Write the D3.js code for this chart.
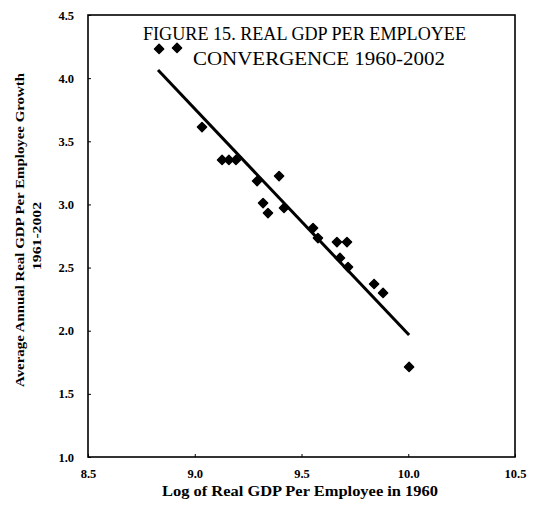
<!DOCTYPE html>
<html><head><meta charset="utf-8">
<script src="https://cdn.jsdelivr.net/npm/d3@7"></script>
<style>body{margin:0;background:#fff}svg{display:block}</style>
</head><body>
<svg id="c" width="534" height="507"></svg>
<script>
const gdp1960 = [8.833, 8.917, 9.034, 9.128, 9.160, 9.193, 9.292, 9.395, 9.320, 9.343, 9.418, 9.554, 9.577, 9.666, 9.713, 9.680, 9.718, 9.840, 9.882, 10.004];
const growth  = [4.231, 4.239, 3.613, 3.352, 3.352, 3.352, 3.185, 3.225, 3.011, 2.932, 2.972, 2.813, 2.734, 2.702, 2.702, 2.576, 2.504, 2.370, 2.299, 1.713];
const fitX = [8.828, 10.004];
const fitY = [4.064, 1.966];
const xTicks = [8.5, 9.0, 9.5, 10.0, 10.5];
const yTicks = [1.0, 1.5, 2.0, 2.5, 3.0, 3.5, 4.0, 4.5];
const titleLines = ["FIGURE 15. REAL GDP PER EMPLOYEE", "CONVERGENCE 1960-2002"];
const xTitle = "Log of Real GDP Per Employee in 1960";
const yTitleLines = ["Average Annual Real GDP Per Employee Growth", "1961-2002"];

const svg = d3.select("#c");
const L = 88, R = 515, T = 15, B = 457;
const x = d3.scaleLinear().domain([8.5, 10.5]).range([L, R]);
const y = d3.scaleLinear().domain([1.0, 4.5]).range([B, T]);
const serif = "'Liberation Serif','Times New Roman',serif";

// frame
svg.append("rect").attr("x", L).attr("y", T).attr("width", R - L).attr("height", B - T)
  .attr("fill", "none").attr("stroke", "#000").attr("stroke-width", 1.6);

// axes
const xAxis = d3.axisBottom(x).tickValues(xTicks).tickFormat(d3.format(".1f")).tickSizeInner(-3).tickSizeOuter(0).tickPadding(12);
const gx = svg.append("g").attr("transform", `translate(0,${B})`).call(xAxis);
gx.select(".domain").remove();
gx.selectAll("text").attr("font-family", serif).attr("font-weight", "bold").attr("font-size", 12.5).attr("fill", "#000");

const yAxis = d3.axisLeft(y).tickValues(yTicks).tickFormat(d3.format(".1f")).tickSizeInner(-3).tickSizeOuter(0).tickPadding(14);
const gy = svg.append("g").attr("transform", `translate(${L},0)`).call(yAxis);
gy.select(".domain").remove();
gy.selectAll("text").attr("font-family", serif).attr("font-weight", "bold").attr("font-size", 12.5).attr("fill", "#000");

// fit line
svg.append("line").attr("x1", x(fitX[0])).attr("y1", y(fitY[0])).attr("x2", x(fitX[1])).attr("y2", y(fitY[1]))
  .attr("stroke", "#000").attr("stroke-width", 3);

// points
const sym = d3.symbol().type(d3.symbolSquare).size(42);
svg.append("g").selectAll("path").data(gdp1960.map((v, i) => [v, growth[i]])).join("path")
  .attr("d", sym)
  .attr("transform", d => `translate(${x(d[0])},${y(d[1])}) rotate(45)`)
  .attr("fill", "#000").attr("stroke", "#000").attr("stroke-width", 1.5).attr("stroke-linejoin", "round");

// title
const tl = [{x: 143, y: 40, w: 323}, {x: 193, y: 65, w: 252}];
titleLines.forEach((t, i) => {
  svg.append("text").attr("x", tl[i].x).attr("y", tl[i].y).text(t)
    .attr("font-family", serif).attr("font-size", 18).attr("textLength", tl[i].w).attr("lengthAdjust", "spacingAndGlyphs")
    .attr("fill", "#000");
});

// x title
svg.append("text").attr("x", 300).attr("y", 496).attr("text-anchor", "middle").text(xTitle)
  .attr("font-family", serif).attr("font-weight", "bold").attr("font-size", 14)
  .attr("textLength", 276).attr("lengthAdjust", "spacingAndGlyphs").attr("fill", "#000");

// y title
const yl = [{bx: 24, cy: 230, w: 314, fs: 12.5}, {bx: 41, cy: 236, w: 68, fs: 12.5}];
yl.forEach((o, i) => {
  svg.append("text").attr("transform", `translate(${o.bx},${o.cy}) rotate(-90)`).attr("text-anchor", "middle")
    .text(yTitleLines[i]).attr("font-family", serif).attr("font-weight", "bold").attr("font-size", o.fs)
    .attr("textLength", o.w).attr("lengthAdjust", "spacingAndGlyphs").attr("fill", "#000");
});
</script>
</body></html>
